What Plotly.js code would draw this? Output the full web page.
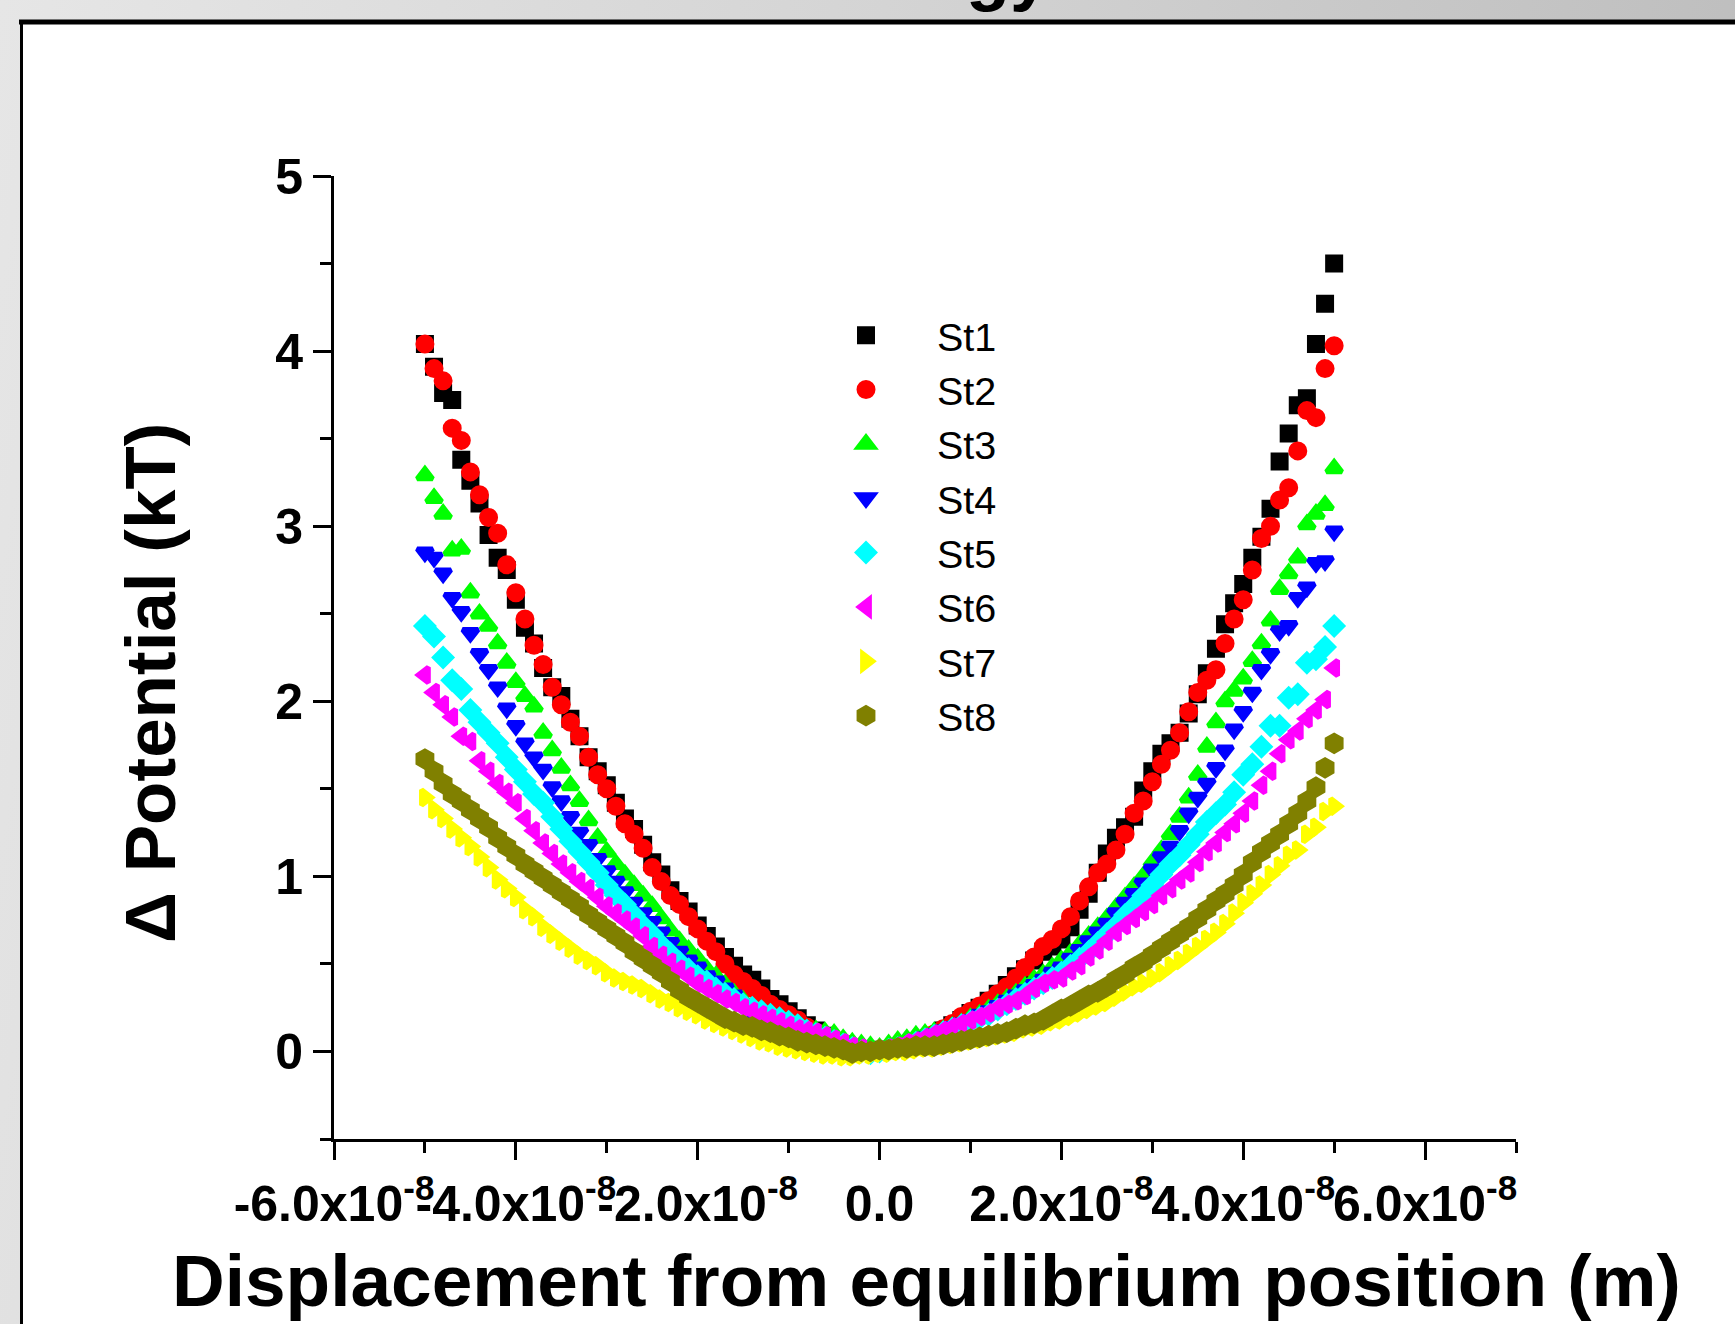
<!DOCTYPE html>
<html>
<head>
<meta charset="utf-8">
<script src="https://cdn.plot.ly/plotly-3.0.1.min.js"></script>
<style>
html,body{margin:0;padding:0;}
body{width:1735px;height:1324px;overflow:hidden;background:linear-gradient(100deg,#e6e6e6 0%,#d4d4d4 45%,#b9b9b9 100%);}
#chart{width:1735px;height:1324px;}
</style>
</head>
<body>
<div id="chart"></div>
<script>
// ---------------- DATA ----------------
// displacement from equilibrium, in nm (1e-9 m)
const displacementNm = [-50,-49,-48,-47,-46,-45,-44,-43,-42,-41,
  -40,-39,-38,-37,-36,-35,-34,-33,-32,-31,
  -30,-29,-28,-27,-26,-25,-24,-23,-22,-21,
  -20,-19,-18,-17,-16,-15,-14,-13,-12,-11,
  -10,-9,-8,-7,-6,-5,-4,-3,-2,-1,
  0,1,2,3,4,5,6,7,8,9,
  10,11,12,13,14,15,16,17,18,19,
  20,21,22,23,24,25,26,27,28,29,
  30,31,32,33,34,35,36,37,38,39,
  40,41,42,43,44,45,46,47,48,49,50];

const st1 = [4.04,3.91,3.76,3.72,3.38,3.26,3.13,2.95,2.82,2.75,
  2.58,2.42,2.33,2.19,2.08,2.03,1.90,1.80,1.68,1.60,
  1.52,1.42,1.33,1.27,1.18,1.08,1.01,0.92,0.86,0.80,
  0.72,0.66,0.60,0.54,0.49,0.44,0.41,0.36,0.30,0.27,
  0.23,0.19,0.15,0.12,0.09,0.06,0.04,0.02,0.01,0.00,
  0.01,0.01,0.02,0.03,0.05,0.07,0.09,0.12,0.15,0.18,
  0.22,0.25,0.29,0.33,0.38,0.43,0.47,0.52,0.57,0.60,
  0.64,0.71,0.81,0.90,1.02,1.13,1.22,1.28,1.34,1.49,
  1.60,1.70,1.76,1.82,1.93,2.04,2.16,2.30,2.44,2.56,
  2.67,2.82,2.94,3.10,3.37,3.53,3.69,3.73,4.04,4.27,4.50];

const st2 = [4.04,3.90,3.83,3.56,3.49,3.31,3.18,3.05,2.96,2.78,
  2.62,2.47,2.32,2.21,2.08,1.98,1.88,1.80,1.68,1.58,
  1.50,1.40,1.30,1.24,1.16,1.05,0.97,0.89,0.84,0.77,
  0.70,0.63,0.57,0.50,0.44,0.40,0.36,0.32,0.27,0.24,
  0.21,0.18,0.14,0.11,0.08,0.06,0.04,0.02,0.01,0.00,
  0.00,0.01,0.02,0.04,0.06,0.08,0.10,0.13,0.16,0.20,
  0.23,0.26,0.29,0.33,0.37,0.42,0.48,0.54,0.60,0.64,
  0.70,0.77,0.86,0.94,1.02,1.07,1.15,1.24,1.36,1.43,
  1.54,1.64,1.72,1.82,1.94,2.05,2.12,2.18,2.33,2.47,
  2.58,2.75,2.93,3.00,3.15,3.22,3.43,3.66,3.62,3.90,4.03];

const st3 = [3.29,3.16,3.07,2.86,2.87,2.62,2.50,2.43,2.33,2.22,
  2.11,2.03,1.97,1.82,1.72,1.62,1.52,1.43,1.32,1.22,
  1.14,1.07,1.01,0.95,0.89,0.83,0.76,0.69,0.63,0.58,
  0.53,0.47,0.43,0.38,0.33,0.29,0.25,0.22,0.19,0.17,
  0.15,0.13,0.12,0.12,0.11,0.10,0.07,0.05,0.04,0.03,
  0.02,0.04,0.06,0.07,0.09,0.10,0.11,0.12,0.14,0.16,
  0.19,0.21,0.24,0.27,0.30,0.33,0.37,0.41,0.44,0.48,
  0.52,0.56,0.61,0.66,0.71,0.76,0.82,0.88,0.94,1.00,
  1.08,1.15,1.24,1.34,1.45,1.58,1.74,1.88,2.00,2.06,
  2.13,2.23,2.33,2.46,2.64,2.73,2.82,3.01,3.07,3.12,3.33];

const st4 = [2.85,2.82,2.73,2.59,2.51,2.39,2.27,2.18,2.08,1.96,
  1.86,1.76,1.68,1.61,1.51,1.43,1.34,1.25,1.18,1.10,
  1.03,0.97,0.91,0.85,0.79,0.74,0.68,0.62,0.57,0.52,
  0.48,0.43,0.40,0.36,0.32,0.27,0.22,0.20,0.18,0.17,
  0.16,0.14,0.12,0.10,0.08,0.06,0.04,0.02,0.01,0.00,
  0.01,0.02,0.03,0.04,0.06,0.08,0.10,0.12,0.14,0.16,
  0.18,0.21,0.23,0.26,0.29,0.32,0.35,0.38,0.41,0.45,
  0.48,0.53,0.58,0.63,0.68,0.73,0.79,0.85,0.90,0.96,
  1.04,1.11,1.17,1.26,1.36,1.45,1.53,1.62,1.72,1.84,
  1.94,2.05,2.18,2.27,2.40,2.43,2.59,2.65,2.79,2.80,2.97];

const st5 = [2.43,2.37,2.25,2.12,2.07,1.95,1.88,1.82,1.76,1.68,
  1.61,1.54,1.47,1.42,1.34,1.27,1.20,1.14,1.08,1.02,
  0.95,0.89,0.84,0.78,0.72,0.67,0.61,0.56,0.51,0.47,
  0.43,0.40,0.36,0.33,0.30,0.27,0.25,0.23,0.21,0.19,
  0.17,0.15,0.12,0.10,0.08,0.06,0.04,0.02,0.00,-0.01,
  0.00,0.01,0.02,0.03,0.05,0.07,0.09,0.11,0.13,0.15,
  0.17,0.19,0.21,0.24,0.27,0.30,0.33,0.36,0.39,0.42,
  0.45,0.49,0.53,0.57,0.62,0.67,0.72,0.78,0.83,0.89,
  0.95,1.01,1.07,1.12,1.18,1.24,1.31,1.36,1.41,1.48,
  1.58,1.64,1.74,1.86,1.86,2.02,2.04,2.22,2.24,2.31,2.43];

const st6 = [2.15,2.05,1.98,1.91,1.80,1.77,1.66,1.60,1.53,1.48,
  1.42,1.33,1.26,1.19,1.13,1.07,1.02,0.97,0.93,0.88,
  0.83,0.79,0.75,0.71,0.66,0.60,0.55,0.51,0.47,0.43,
  0.39,0.36,0.33,0.30,0.28,0.25,0.23,0.21,0.19,0.17,
  0.15,0.13,0.12,0.11,0.09,0.07,0.05,0.03,0.02,0.00,
  0.01,0.02,0.03,0.05,0.06,0.08,0.10,0.12,0.14,0.16,
  0.18,0.20,0.22,0.25,0.27,0.29,0.32,0.36,0.39,0.41,
  0.42,0.46,0.49,0.54,0.58,0.63,0.68,0.72,0.76,0.80,
  0.84,0.89,0.93,0.98,1.02,1.08,1.14,1.19,1.25,1.30,
  1.36,1.43,1.52,1.60,1.70,1.78,1.83,1.90,1.95,2.01,2.19];

const st7 = [1.45,1.38,1.33,1.27,1.22,1.17,1.11,1.05,0.98,0.93,
  0.88,0.81,0.77,0.71,0.67,0.63,0.59,0.55,0.52,0.49,
  0.45,0.42,0.40,0.38,0.36,0.33,0.30,0.28,0.25,0.23,
  0.21,0.18,0.16,0.14,0.12,0.10,0.08,0.06,0.05,0.03,
  0.02,0.01,0.00,-0.01,-0.02,-0.02,-0.03,-0.03,-0.02,-0.02,
  -0.01,-0.01,0.00,0.00,0.01,0.02,0.02,0.03,0.04,0.05,
  0.06,0.07,0.08,0.09,0.10,0.11,0.13,0.14,0.15,0.17,
  0.18,0.20,0.22,0.24,0.26,0.28,0.31,0.34,0.37,0.39,
  0.42,0.45,0.49,0.52,0.56,0.60,0.64,0.68,0.73,0.79,
  0.85,0.90,0.95,1.01,1.06,1.12,1.15,1.24,1.28,1.37,1.40];

const st8 = [1.67,1.60,1.53,1.47,1.43,1.38,1.33,1.28,1.22,1.17,
  1.12,1.07,1.03,0.99,0.95,0.91,0.87,0.83,0.78,0.74,
  0.70,0.66,0.62,0.57,0.53,0.49,0.45,0.40,0.35,0.31,
  0.28,0.25,0.22,0.19,0.17,0.15,0.14,0.12,0.11,0.09,
  0.08,0.06,0.05,0.04,0.03,0.02,0.01,-0.01,0.00,0.00,
  0.01,0.01,0.02,0.02,0.03,0.03,0.03,0.04,0.05,0.06,
  0.07,0.08,0.09,0.10,0.11,0.13,0.15,0.16,0.18,0.21,
  0.24,0.26,0.29,0.32,0.34,0.37,0.41,0.44,0.48,0.51,
  0.55,0.59,0.63,0.67,0.71,0.76,0.81,0.86,0.90,0.95,
  1.01,1.08,1.14,1.19,1.24,1.30,1.36,1.43,1.51,1.62,1.76];

const seriesNames = ['St1','St2','St3','St4','St5','St6','St7','St8'];
const xTickVals = [-6e-8,-4e-8,-2e-8,0,2e-8,4e-8,6e-8];
const xTickText = ['-6.0x10<sup>-8</sup>','-4.0x10<sup>-8</sup>','-2.0x10<sup>-8</sup>','0.0',
  '2.0x10<sup>-8</sup>','4.0x10<sup>-8</sup>','6.0x10<sup>-8</sup>'];
const xTitle = 'Displacement from equilibrium position (m)';
const yTitle = '\u0394 Potential (kT)';
const topTitle = 'Potential Energy';

// ---------------- STYLE ----------------
// marker outline in the fill colour keeps legend symbols as large as the plotted ones
const seriesValues = [st1,st2,st3,st4,st5,st6,st7,st8];
const styles = [
  {color:'#000000', symbol:'square', size:13},
  {color:'#ff0000', symbol:'circle', size:14},
  {color:'#00ff00', symbol:'triangle-up', size:13.5},
  {color:'#0000ff', symbol:'triangle-down', size:13.5},
  {color:'#00ffff', symbol:'diamond', size:13},
  {color:'#ff00ff', symbol:'triangle-left', size:13.5},
  {color:'#ffff00', symbol:'triangle-right', size:13.5},
  {color:'#808000', symbol:'hexagon', size:16}
];
const OUTLINE = 5;
const FONT = '"Liberation Sans", Arial, Helvetica, sans-serif';
const W = 1735, H = 1324, L = 334, R = 219, T = 176, B = 185;
const plotW = W - L - R, plotH = H - T - B;
const px2x = px => (px - L) / plotW;
const px2y = py => (H - B - py) / plotH;

const xMeters = displacementNm.map(v => v * 1e-9);

const traces = seriesValues.map((vals, i) => ({
  type: 'scatter',
  mode: 'markers',
  name: seriesNames[i],
  x: xMeters,
  y: vals,
  marker: {color: styles[i].color, symbol: styles[i].symbol, size: styles[i].size,
           line: {width: OUTLINE, color: styles[i].color}},
  hoverinfo: 'skip'
}));

const layout = {
  width: W, height: H,
  margin: {l: L, r: R, t: T, b: B, pad: 0},
  paper_bgcolor: 'rgba(0,0,0,0)',
  plot_bgcolor: 'rgba(0,0,0,0)',
  font: {family: FONT, color: '#000'},
  showlegend: true,
  xaxis: {
    range: [-6e-8, 7e-8],
    showline: true, linecolor: '#000', linewidth: 3,
    showgrid: false, zeroline: false,
    ticks: 'outside', ticklen: 18, tickwidth: 3, tickcolor: '#000',
    tickmode: 'array', tickvals: xTickVals, ticktext: xTickText,
    tickangle: 0,
    tickfont: {family: FONT, size: 50, color: '#000', weight: 'bold'},
    ticklabelstandoff: 1,
    minor: {ticks: 'outside', ticklen: 11, tickwidth: 3, tickcolor: '#000', dtick: 1e-8, tick0: 0, showgrid: false},
    fixedrange: true
  },
  yaxis: {
    range: [-0.5, 5],
    showline: true, linecolor: '#000', linewidth: 3,
    showgrid: false, zeroline: false,
    ticks: 'outside', ticklen: 18, tickwidth: 3, tickcolor: '#000',
    tickmode: 'linear', tick0: 0, dtick: 1,
    tickfont: {family: FONT, size: 50, color: '#000', weight: 'bold'},
    ticklabelstandoff: 0,
    minor: {ticks: 'outside', ticklen: 11, tickwidth: 3, tickcolor: '#000', dtick: 0.5, tick0: 0, showgrid: false},
    fixedrange: true
  },
  legend: {
    x: px2x(795), y: px2y(303), xanchor: 'left', yanchor: 'top',
    bgcolor: 'rgba(0,0,0,0)', borderwidth: 0,
    font: {family: FONT, size: 39.5, color: '#000'},
    itemwidth: 132, tracegroupgap: 0
  },
  shapes: [
    {type: 'rect', xref: 'paper', yref: 'paper', x0: px2x(21), x1: px2x(1800), y0: px2y(1400), y1: px2y(21),
     fillcolor: '#ffffff', line: {width: 0}, layer: 'below'},
    {type: 'line', xref: 'paper', yref: 'paper', x0: px2x(19), x1: px2x(1800), y0: px2y(22), y1: px2y(22),
     line: {color: '#000', width: 5}, layer: 'below'},
    {type: 'line', xref: 'paper', yref: 'paper', x0: px2x(21.5), x1: px2x(21.5), y0: px2y(20), y1: px2y(1400),
     line: {color: '#000', width: 3}, layer: 'below'}
  ],
  annotations: [
    {text: yTitle, xref: 'paper', yref: 'paper', x: px2x(150), y: px2y(683), xanchor: 'center', yanchor: 'middle',
     textangle: -90, showarrow: false, font: {family: FONT, size: 71, color: '#000', weight: 'bold'}},
    {text: xTitle, xref: 'paper', yref: 'paper', x: px2x(926), y: px2y(1280), xanchor: 'center', yanchor: 'middle',
     showarrow: false, font: {family: FONT, size: 73, color: '#000', weight: 'bold'}},
    {text: topTitle, xref: 'paper', yref: 'paper', x: px2x(1052), y: px2y(14), xanchor: 'right', yanchor: 'bottom',
     showarrow: false, font: {family: FONT, size: 72, color: '#000', weight: 'bold'}}
  ]
};

Plotly.newPlot('chart', traces, layout, {staticPlot: true, displayModeBar: false});
</script>
</body>
</html>
